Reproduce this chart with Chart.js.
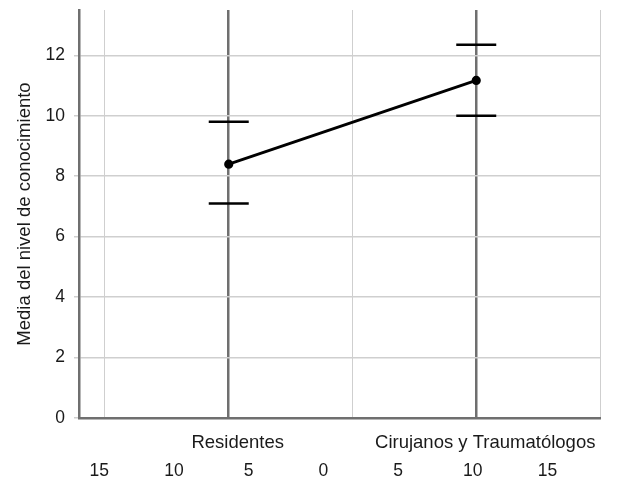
<!DOCTYPE html>
<html>
<head>
<meta charset="utf-8">
<script src="https://cdn.jsdelivr.net/npm/chart.js@4/dist/chart.umd.min.js"></script>
<style>
  html, body { margin: 0; padding: 0; background: #fff; }
  #wrap { width: 617px; height: 483px; }
</style>
</head>
<body>
<div id="wrap"><canvas id="chart"></canvas></div>
<script>
// group labels and their means with the error bar ends
const categories = ['Residentes', 'Cirujanos y Traumatólogos'];
const means = [8.4, 11.17];
const upper = [9.8, 12.35];
const lower = [7.1, 10.0];

// bottom row of the axis (mirrored counts)
const countTicks = [-15, -10, -5, 0, 5, 10, 15];

const DARK = '#6f6f6f';
const LIGHT = '#cfcfcf';
const FONT = "'Liberation Sans', Arial, sans-serif";

// each group sits on every second grid line
const groupX = categories.map((c, i) => 1 + i * 2);

const errorBars = {
    id: 'errorBars',
    afterDatasetsDraw(chart) {
        const ctx = chart.ctx;
        const xs = chart.scales.x, ys = chart.scales.y;
        ctx.save();
        ctx.strokeStyle = '#000';
        ctx.lineWidth = 2.5;
        categories.forEach((c, i) => {
            const px = xs.getPixelForValue(groupX[i]);
            [upper[i], lower[i]].forEach(v => {
                const py = ys.getPixelForValue(v);
                ctx.beginPath();
                ctx.moveTo(px - 20, py);
                ctx.lineTo(px + 20, py);
                ctx.stroke();
            });
        });
        ctx.restore();
    }
};

new Chart(document.getElementById('chart'), {
    type: 'line',
    data: {
        datasets: [{
            data: means.map((m, i) => ({ x: groupX[i], y: m })),
            borderColor: '#000',
            backgroundColor: '#000',
            borderWidth: 2.8,
            pointRadius: 3.2,
            pointHoverRadius: 3.2,
            tension: 0
        }]
    },
    options: {
        responsive: true,
        maintainAspectRatio: false,
        animation: false,
        layout: { padding: { top: 10, right: 17, left: 0, bottom: 0 } },
        plugins: { legend: { display: false }, tooltip: { enabled: false } },
        scales: {
            x: {
                type: 'linear',
                position: 'bottom',
                min: -0.21,
                max: 4,
                afterBuildTicks: s => { s.ticks = [0, 1, 2, 3, 4].map(v => ({ value: v })); },
                afterFit: s => { s.height = 38; s.paddingLeft = 0; s.paddingRight = 0; },
                grid: {
                    drawTicks: false,
                    color: c => (c.tick && (c.tick.value === 1 || c.tick.value === 3)) ? DARK : LIGHT,
                    lineWidth: c => (c.tick && (c.tick.value === 1 || c.tick.value === 3)) ? 2.5 : 1
                },
                border: { color: DARK, width: 2.5 },
                ticks: {
                    autoSkip: false,
                    maxRotation: 0,
                    padding: 14,
                    labelOffset: 9,
                    color: '#1a1a1a',
                    font: { family: FONT, size: 18.5 },
                    callback: v => {
                        const i = groupX.indexOf(v);
                        return i >= 0 ? categories[i] : '';
                    }
                }
            },
            x2: {
                type: 'linear',
                position: 'bottom',
                min: -16.36,
                max: 18.51,
                afterBuildTicks: s => { s.ticks = countTicks.map(v => ({ value: v })); },
                afterFit: s => { s.height = 27; s.paddingLeft = 0; s.paddingRight = 0; },
                grid: { display: false, drawTicks: false },
                border: { display: false },
                ticks: {
                    autoSkip: false,
                    maxRotation: 0,
                    padding: 5,
                    color: '#1a1a1a',
                    font: { family: FONT, size: 17.5 },
                    callback: v => String(Math.abs(v))
                }
            },
            y: {
                min: 0,
                max: 13.5,
                afterBuildTicks: s => { s.ticks = [0, 2, 4, 6, 8, 10, 12].map(v => ({ value: v })); },
                afterFit: s => { s.width = 79; s.paddingTop = 0; s.paddingBottom = 0; },
                grid: { color: LIGHT, tickColor: LIGHT, tickLength: 5, lineWidth: 1.5 },
                border: { color: DARK, width: 2.5 },
                ticks: {
                    padding: 9,
                    color: '#1a1a1a',
                    font: { family: FONT, size: 17.5 }
                },
                title: {
                    display: true,
                    text: 'Media del nivel de conocimiento',
                    color: '#1a1a1a',
                    padding: { top: 14, bottom: 4 },
                    font: { family: FONT, size: 18.5 }
                }
            }
        }
    },
    plugins: [errorBars]
});
</script>
</body>
</html>
